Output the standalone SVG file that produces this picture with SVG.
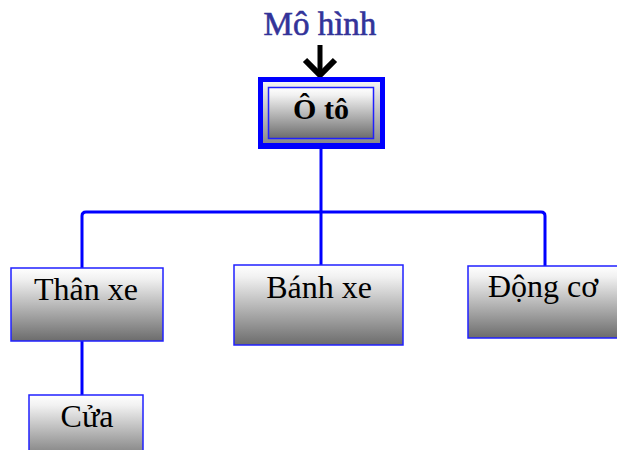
<svg xmlns="http://www.w3.org/2000/svg" width="617" height="450" viewBox="0 0 617 450">
  <defs>
    <linearGradient id="boxFill" x1="0" y1="0" x2="0" y2="1">
      <stop offset="0" stop-color="#ffffff"/>
      <stop offset="0.15" stop-color="#f1f1f1"/>
      <stop offset="1" stop-color="#6c6c6c"/>
    </linearGradient>
    <linearGradient id="ringFill" x1="0" y1="0" x2="0" y2="1">
      <stop offset="0" stop-color="#f4f4f4"/>
      <stop offset="1" stop-color="#8a8a8a"/>
    </linearGradient>
  </defs>
  <style>
    .box { fill: url(#boxFill); stroke: #2020ff; stroke-width: 1.5; }
    .link { fill: none; stroke: #0000ff; stroke-width: 3; stroke-linejoin: round; }
    .label { font-family: "Liberation Serif", "Times New Roman", serif; font-size: 32px; fill: #000; text-anchor: middle; }
  </style>

  <!-- model caption with pointer arrow -->
  <g id="caption">
    <text x="320" y="35" font-family="'Liberation Serif', 'Times New Roman', serif" font-size="33" fill="#333399" stroke="#333399" stroke-width="0.6" text-anchor="middle">Mô hình</text>
    <line x1="320" y1="45" x2="320" y2="74" stroke="#000" stroke-width="5"/>
    <polyline points="305,60 320,75 335,60" fill="none" stroke="#000" stroke-width="6" stroke-linejoin="miter"/>
  </g>

  <!-- connectors -->
  <g id="connectors">
    <line class="link" x1="321" y1="149" x2="321" y2="265"/>
    <path class="link" d="M82,268 V216 Q82,212 86,212 H541 Q545,212 545,216 V266"/>
    <line class="link" x1="82" y1="341" x2="82" y2="395"/>
  </g>

  <!-- root node -->
  <g id="node-oto">
    <rect x="258" y="77" width="127" height="72" fill="#0000ff"/>
    <rect x="263" y="82" width="117" height="61" fill="url(#ringFill)"/>
    <rect x="268.5" y="87.5" width="105" height="51" fill="url(#boxFill)" stroke="#2020ff" stroke-width="1.5"/>
    <text x="321" y="119" font-family="'Liberation Serif', 'Times New Roman', serif" font-size="30" font-weight="bold" fill="#000" text-anchor="middle">Ô tô</text>
  </g>

  <g id="node-thanxe">
    <rect class="box" x="11" y="268" width="152" height="73"/>
    <text class="label" x="86" y="300">Thân xe</text>
  </g>

  <g id="node-banhxe">
    <rect class="box" x="234" y="265" width="169" height="80"/>
    <text class="label" x="319" y="298">Bánh xe</text>
  </g>

  <g id="node-dongco">
    <rect class="box" x="468" y="266" width="160" height="72"/>
    <text class="label" x="543" y="297">Động cơ</text>
  </g>

  <g id="node-cua">
    <rect class="box" x="29" y="395" width="114" height="70"/>
    <text class="label" x="87" y="427">Cửa</text>
  </g>
</svg>
